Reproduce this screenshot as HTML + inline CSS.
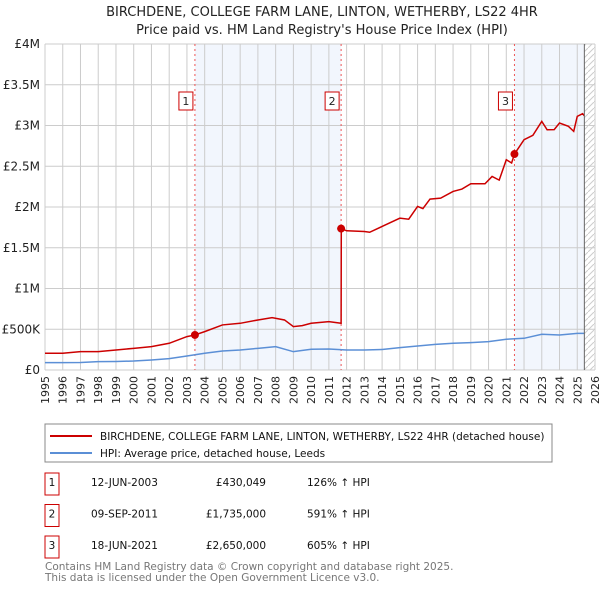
<!DOCTYPE html>
<html><head><meta charset="utf-8"><style>
body{margin:0;background:#fff;font-family:"Liberation Sans","DejaVu Sans",sans-serif}
svg text{font-family:"DejaVu Sans","Liberation Sans",sans-serif}
</style></head><body>
<svg id="c" width="600" height="590" xmlns="http://www.w3.org/2000/svg">
<text x="322" y="16" text-anchor="middle" font-size="13" fill="#222">BIRCHDENE, COLLEGE FARM LANE, LINTON, WETHERBY, LS22 4HR</text>
<text x="322" y="34" text-anchor="middle" font-size="13" fill="#222">Price paid vs. HM Land Registry's House Price Index (HPI)</text>
<defs><pattern id="h" width="6" height="6" patternUnits="userSpaceOnUse"><path d="M0,6 L6,0" stroke="#ccc" stroke-width="1"/></pattern></defs>
<g id="bg"></g><g id="grid"></g><g id="lines"></g><g id="ax"></g>
<rect x="45" y="424" width="507" height="38" fill="none" stroke="#888"/>
<line x1="50" y1="436" x2="92" y2="436" stroke="#cc0000" stroke-width="2"/>
<text x="100" y="440" font-size="10.5" fill="#111">BIRCHDENE, COLLEGE FARM LANE, LINTON, WETHERBY, LS22 4HR (detached house)</text>
<line x1="50" y1="453" x2="92" y2="453" stroke="#5b8fd6" stroke-width="2"/>
<text x="100" y="457" font-size="10.5" fill="#111">HPI: Average price, detached house, Leeds</text>
<g id="tbl"></g>
<text x="45" y="570" font-size="10.5" fill="#777">Contains HM Land Registry data © Crown copyright and database right 2025.</text>
<text x="45" y="581" font-size="10.5" fill="#777">This data is licensed under the Open Government Licence v3.0.</text>
</svg>
<script>
const hpiYears=[1995,1996,1997,1998,1999,2000,2001,2002,2003,2004,2005,2006,2007,2008,2009,2010,2011,2012,2013,2014,2015,2016,2017,2018,2019,2020,2021,2022,2023,2024,2025,2025.4];
const hpiValues=[90000,90000,92000,102000,105000,110000,123000,139000,172000,205000,233000,246000,266000,287000,225000,254000,258000,246000,246000,252000,274000,295000,315000,328000,336000,348000,377000,389000,438000,430000,450000,450000];
const propYears=[1995,1996,1997,1998,1999,2000,2001,2002,2003,2003.45,2004,2005,2006,2007,2007.8,2008.5,2009,2009.5,2010,2011,2011.69,2011.7,2012,2013,2013.3,2014,2015,2015.5,2016,2016.3,2016.7,2017.3,2018,2018.5,2019,2019.8,2020.2,2020.6,2021,2021.3,2021.46,2022,2022.5,2023,2023.3,2023.7,2024,2024.5,2024.8,2025,2025.3,2025.4];
const propValues=[205000,205000,225000,225000,246000,266000,287000,328000,410000,430049,471000,553000,573000,614000,643000,614000,532000,545000,573000,594000,573000,1735000,1708000,1700000,1690000,1761000,1863000,1850000,2007000,1980000,2097000,2109000,2191000,2220000,2285000,2285000,2375000,2330000,2580000,2540000,2650000,2826000,2880000,3051000,2948000,2950000,3030000,2990000,2928000,3112000,3145000,3120000];
const saleYears=[2003.45,2011.69,2021.46];
const saleValues=[430049,1735000,2650000];
const saleLabels=["1","2","3"];
const saleDates=["12-JUN-2003","09-SEP-2011","18-JUN-2021"];
const salePrices=["£430,049","£1,735,000","£2,650,000"];
const salePct=["126% ↑ HPI","591% ↑ HPI","605% ↑ HPI"];
const yTicks=[0,500000,1000000,1500000,2000000,2500000,3000000,3500000,4000000];
const yTickLabels=["£0","£500K","£1M","£1.5M","£2M","£2.5M","£3M","£3.5M","£4M"];
const L=45,R=595,T=44,B=370,X0=1995,X1=2026,YMAX=4000000;
const x=v=>L+(v-X0)/(X1-X0)*(R-L);
const y=v=>B-v/YMAX*(B-T);
const NS="http://www.w3.org/2000/svg";
function mk(p,t,a){const e=document.createElementNS(NS,t);for(const k in a)e.setAttribute(k,a[k]);p.appendChild(e);return e;}
const bg=document.getElementById('bg'),grid=document.getElementById('grid'),lines=document.getElementById('lines'),ax=document.getElementById('ax'),tbl=document.getElementById('tbl');
let r=mk(bg,'rect',{x:L,y:T,width:R-L,height:B-T,fill:'#fff'});


r=mk(bg,'rect',{x:x(saleYears[0]),y:T,width:x(saleYears[1])-x(saleYears[0]),height:B-T,fill:'#eef3fc',opacity:0.75});


r=mk(bg,'rect',{x:x(saleYears[2]),y:T,width:x(2025.4)-x(saleYears[2]),height:B-T,fill:'#eef3fc',opacity:0.75});


r=mk(bg,'rect',{x:x(2025.4),y:T,width:R-x(2025.4),height:B-T,fill:'url(#h)'});


for(let yr=X0;yr<=X1;yr++){
 let g=mk(grid,'line',{x1:x(yr),x2:x(yr),y1:T,y2:B,stroke:'#ccc','stroke-width':1});
 
 
 let t=mk(ax,'text',{x:0,y:0,'font-size':11,fill:'#222','text-anchor':'end',transform:`translate(${x(yr)+4},${B+6}) rotate(-90)`});
 t.textContent=yr;
 
 
}
yTicks.forEach((v,i)=>{
 let g=mk(grid,'line',{x1:L,x2:R,y1:y(v),y2:y(v),stroke:'#ccc','stroke-width':1});
 
 
 let t=mk(ax,'text',{x:L-5,y:y(v)+4,'font-size':12,fill:'#222','text-anchor':'end'});
 t.textContent=yTickLabels[i];
 
 
});
let bl=mk(ax,'line',{x1:x(2025.4),x2:x(2025.4),y1:T,y2:B,stroke:'#666'});


saleYears.forEach((s,i)=>{
 let v=mk(lines,'line',{x1:x(s),x2:x(s),y1:T,y2:B,stroke:'#e55','stroke-width':1,'stroke-dasharray':'2,3'});
 
 
 let bx=mk(ax,'rect',{x:x(s)-16,y:92,width:14,height:18,fill:'#fff',stroke:'#cc0000'});
 
 
 let t=mk(ax,'text',{x:x(s)-9,y:105,'font-size':11,'text-anchor':'middle',fill:'#222'});
 t.textContent=saleLabels[i];
 
 
});
let p=mk(lines,'polyline',{points:hpiYears.map((v,i)=>x(v)+','+y(hpiValues[i])).join(' '),fill:'none',stroke:'#5b8fd6','stroke-width':1.5});


p=mk(lines,'polyline',{points:propYears.map((v,i)=>x(v)+','+y(propValues[i])).join(' '),fill:'none',stroke:'#cc0000','stroke-width':1.5});


saleYears.forEach((s,i)=>{
 let c=mk(lines,'circle',{cx:x(s),cy:y(saleValues[i]),r:4,fill:'#cc0000'});
 
 
 const ry=486+i*31.5;
 let b=mk(tbl,'rect',{x:45,y:ry-13,width:14,height:22,fill:'none',stroke:'#cc0000'});
 
 
 let t=mk(tbl,'text',{x:52,y:ry,'font-size':10.5,'text-anchor':'middle',fill:'#111'});t.textContent=saleLabels[i];
 
 
 t=mk(tbl,'text',{x:91,y:ry,'font-size':10.5,fill:'#111'});t.textContent=saleDates[i];
 
 
 t=mk(tbl,'text',{x:266,y:ry,'font-size':10.5,fill:'#111','text-anchor':'end'});t.textContent=salePrices[i];
 
 
 t=mk(tbl,'text',{x:307,y:ry,'font-size':10.5,fill:'#111'});t.textContent=salePct[i];
 
 
});
</script>
</body></html>
